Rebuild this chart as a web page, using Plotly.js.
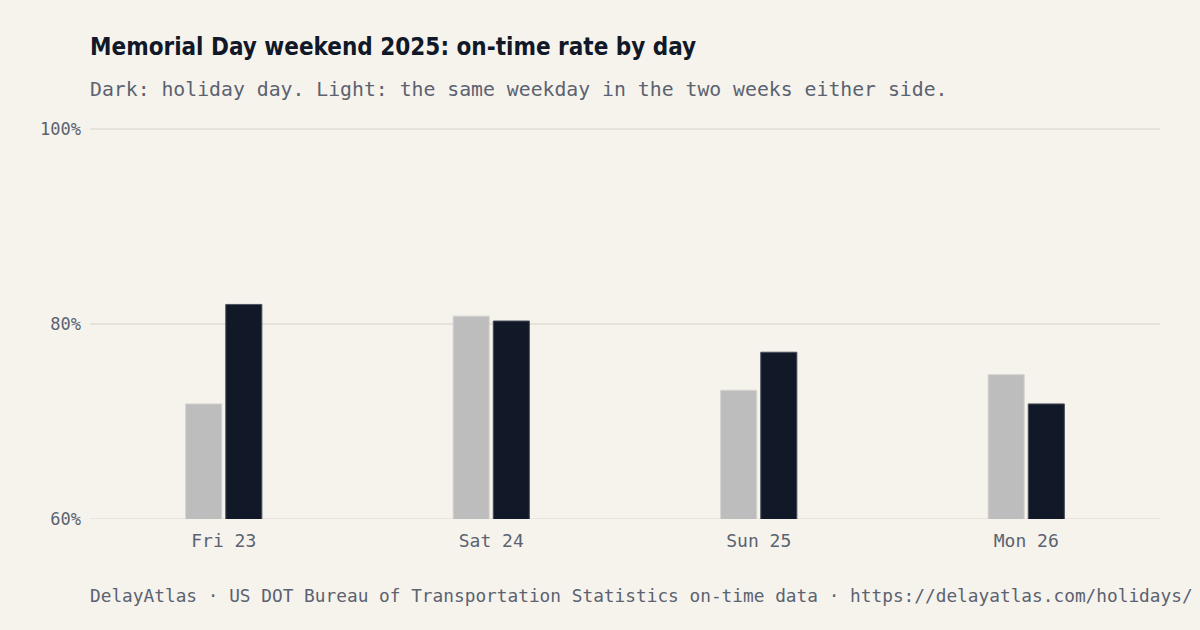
<!DOCTYPE html>
<html>
<head>
<meta charset="utf-8">
<script src="https://cdn.plot.ly/plotly-3.0.1.min.js"></script>
<style>
  html, body { margin: 0; padding: 0; background: #f6f3ed; }
  #chart { width: 1200px; height: 630px; }
</style>
</head>
<body>
<div id="chart"></div>
<script>
// days of the holiday weekend
var days = ['Fri 23', 'Sat 24', 'Sun 25', 'Mon 26'];
// on-time rate, same weekday in the two weeks either side (light)
var baseline = [71.8, 80.8, 73.2, 74.8];
// on-time rate on the holiday day itself (dark)
var holiday = [82.0, 80.3, 77.1, 71.8];
var yTicks = [60, 80, 100];
var yTickText = ['60%', '80%', '100%'];

var mono = '"DejaVu Sans Mono", "Liberation Mono", monospace';
var grey = '#5b6270';
var gridColor = '#e6e2da';

var light = {
  x: days,
  y: baseline,
  type: 'bar',
  name: 'Either side',
  marker: { color: '#bdbdbd', line: { color: '#d6d4cf', width: 1 } },
  hoverinfo: 'skip'
};
var dark = {
  x: days,
  y: holiday,
  type: 'bar',
  name: 'Holiday',
  marker: { color: '#111827', line: { color: '#4a505c', width: 1 } },
  hoverinfo: 'skip'
};

var layout = {
  width: 1200,
  height: 630,
  paper_bgcolor: '#f6f3ed',
  plot_bgcolor: '#f6f3ed',
  // a little room past 100 so its gridline is drawn
  margin: { l: 90, r: 40, t: 124, b: 111 },
  showlegend: false,
  barmode: 'group',
  bargap: 0.7,
  bargroupgap: 0.1,
  xaxis: {
    showgrid: false,
    zeroline: false,
    showline: false,
    tickfont: { family: mono, size: 18, color: grey },
    ticklabelstandoff: 9
  },
  yaxis: {
    range: [60, 100.5],
    tickmode: 'array',
    tickvals: yTicks,
    ticktext: yTickText,
    showgrid: true,
    gridcolor: gridColor,
    gridwidth: 1.5,
    zeroline: false,
    showline: false,
    tickfont: { family: mono, size: 17, color: grey },
    ticklabelstandoff: 8
  },
  // plotly drops the gridline sitting on the range edge, so draw the 60% one
  shapes: [
    {
      type: 'line', xref: 'paper', yref: 'y', x0: 0, x1: 1, y0: 60, y1: 60,
      line: { color: gridColor, width: 1.5 }, layer: 'below'
    }
  ],
  annotations: [
    {
      text: '<b>Memorial Day weekend 2025: on-time rate by day</b>',
      xref: 'paper', yref: 'paper', x: 0, y: 1.1949, xshift: -2,
      xanchor: 'left', yanchor: 'middle', showarrow: false,
      font: { family: '"Liberation Sans Narrow", "DejaVu Sans Condensed", "Roboto", sans-serif', size: 24, color: '#111827' }
    },
    {
      text: 'Dark: holiday day. Light: the same weekday in the two weeks either side.',
      xref: 'paper', yref: 'paper', x: 0, y: 1.0886, xshift: -2,
      xanchor: 'left', yanchor: 'middle', showarrow: false,
      font: { family: mono, size: 19.8, color: grey }
    },
    {
      text: 'DelayAtlas · US DOT Bureau of Transportation Statistics on-time data · https://delayatlas.com/holidays/',
      xref: 'paper', yref: 'paper', x: 0, y: -0.1949, xshift: -2,
      xanchor: 'left', yanchor: 'middle', showarrow: false,
      font: { family: mono, size: 17.8, color: grey }
    }
  ]
};

Plotly.newPlot('chart', [light, dark], layout, { displayModeBar: false, staticPlot: true });
</script>
</body>
</html>
